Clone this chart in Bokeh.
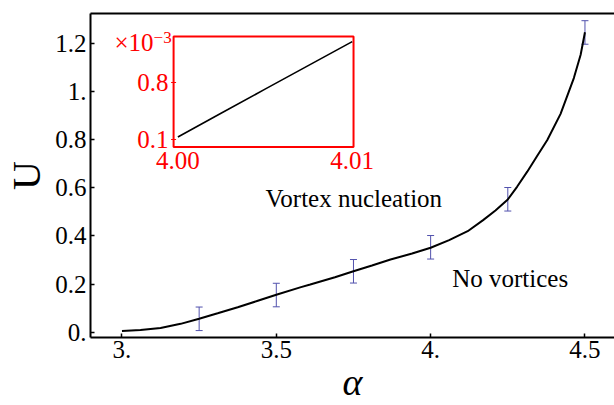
from bokeh.plotting import figure
from bokeh.models import (Range1d, FixedTicker, LinearAxis, Whisker, TeeHead,
                          ColumnDataSource)
from bokeh.core.properties import value
from bokeh.embed import file_html
from bokeh.resources import INLINE

# ---- data ----
curve_x = [3.0, 3.06, 3.125, 3.19, 3.25, 3.31, 3.375, 3.44, 3.5, 3.58, 3.61, 3.69,
           3.75, 3.81, 3.87, 3.94, 4.0, 4.06, 4.12, 4.17, 4.21, 4.25, 4.28, 4.313,
           4.345, 4.378, 4.421, 4.464, 4.486, 4.5]
curve_y = [0.004, 0.008, 0.017, 0.034, 0.055, 0.078, 0.103, 0.13, 0.155, 0.187, 0.198, 0.228,
           0.253, 0.277, 0.302, 0.327, 0.351, 0.383, 0.42, 0.466, 0.506, 0.552, 0.605, 0.668,
           0.733, 0.80, 0.909, 1.058, 1.155, 1.249]

err_x = [3.25, 3.5, 3.75, 4.0, 4.25, 4.5]
err_y = [0.055, 0.154, 0.253, 0.353, 0.553, 1.248]
err_d = [0.049, 0.049, 0.049, 0.049, 0.049, 0.049]

inset_x = [4.0, 4.0025, 4.005, 4.0075, 4.01]
inset_y = [0.13, 0.425, 0.718, 1.01, 1.302]

x_ticks = [3.0, 3.5, 4.0, 4.5]
x_labels = ["3.", "3.5", "4.", "4.5"]
y_ticks = [0.0, 0.2, 0.4, 0.6, 0.8, 1.0, 1.2]
y_labels = ["0.", "0.2", "0.4", "0.6", "0.8", "1.", "1.2"]

inset_x_ticks = [4.00, 4.01]
inset_x_labels = ["4.00", "4.01"]
inset_y_ticks = [0.8, 0.1]
inset_y_labels = ["0.8", "0.1"]

FONT = "Liberation Serif"
RED = "#ff0000"
ERRC = "#5252ad"

p = figure(width=614, height=405,
           x_range=Range1d(2.898, 4.5957), y_range=Range1d(-0.0229, 1.327),
           output_backend="svg", toolbar_location=None,
           min_border_left=90, min_border_right=0, min_border_top=13, min_border_bottom=68)
p.outline_line_color = None
p.grid.visible = False
p.background_fill_color = "white"
p.border_fill_color = "white"

for ax, ticks, labels in ((p.xaxis[0], x_ticks, x_labels), (p.yaxis[0], y_ticks, y_labels)):
    ax.ticker = FixedTicker(ticks=ticks)
    ax.major_label_overrides = dict(zip(ticks, labels))
    ax.major_label_text_font = FONT
    ax.major_label_text_font_size = "25px"
    ax.major_label_text_color = "black"
    ax.axis_line_width = 2
    ax.axis_line_color = "black"
    ax.major_tick_in = 4
    ax.major_tick_out = 0
    ax.major_tick_line_width = 1.5
    ax.minor_tick_line_color = None
    ax.axis_label_text_font = FONT
    ax.axis_label_text_color = "black"
p.xaxis[0].major_label_standoff = 3
p.yaxis[0].major_label_standoff = 4

p.yaxis[0].axis_label = "U"
p.yaxis[0].axis_label_text_font_size = "40px"
p.yaxis[0].axis_label_text_font_style = "normal"
p.yaxis[0].axis_label_standoff = 3

p.xaxis[0].axis_label = "α"
p.xaxis[0].axis_label_text_font_size = "38px"
p.xaxis[0].axis_label_text_font_style = "italic"
p.xaxis[0].axis_label_standoff = 0

top = LinearAxis(ticker=FixedTicker(ticks=[]), major_label_text_font_size="0px",
                 major_tick_line_color=None, minor_tick_line_color=None,
                 axis_line_width=2, axis_line_color="black")
p.add_layout(top, "above")

# main curve
p.line(curve_x, curve_y, line_color="black", line_width=2)

# error bars
src = ColumnDataSource(data=dict(
    x=err_x,
    upper=[y + d for y, d in zip(err_y, err_d)],
    lower=[y - d for y, d in zip(err_y, err_d)],
))
p.add_layout(Whisker(source=src, base="x", upper="upper", lower="lower",
                     line_color=ERRC, line_width=1,
                     upper_head=TeeHead(size=7, line_color=ERRC, line_width=1),
                     lower_head=TeeHead(size=7, line_color=ERRC, line_width=1)))

# region annotations
p.text(x=[3.465], y=[0.556], text=["Vortex nucleation"], text_font=value(FONT),
       text_font_size="25px", text_color="black", text_align="left", text_baseline="alphabetic")
p.text(x=[4.070], y=[0.223], text=["No vortices"], text_font=value(FONT),
       text_font_size="25px", text_color="black", text_align="left", text_baseline="alphabetic")

# ---- inset ----
ix0, ix1 = 3.999753, 4.010075
iy0, iy1 = 0.0079, 1.365
sub = p.subplot(x_source=Range1d(ix0, ix1), y_source=Range1d(iy0, iy1),
                x_target=Range1d(3.1672, 3.7502), y_target=Range1d(0.7708, 1.2313))
sub.quad(left=[ix0], right=[ix1], bottom=[iy0], top=[iy1],
         fill_color="white", line_color=RED, line_width=2)
sub.line(inset_x, inset_y, line_color="black", line_width=1.6)
sub.scatter(x=[ix0] * len(inset_y_ticks), y=inset_y_ticks, marker="dash", size=5,
            line_color=RED, line_width=1)
sub.text(x=[ix0] * len(inset_y_ticks), y=inset_y_ticks, text=inset_y_labels,
         text_font=value(FONT), text_font_size="25px", text_color=RED,
         text_align="right", text_baseline="middle", x_offset=-5)
sub.text(x=inset_x_ticks, y=[iy0] * len(inset_x_ticks), text=inset_x_labels,
         text_font=value(FONT), text_font_size="25px", text_color=RED,
         text_align="center", text_baseline="middle", y_offset=14)
sub.text(x=[ix0], y=[iy1], text=["×10"], text_font=value(FONT), text_font_size="25px",
         text_color=RED, text_align="right", text_baseline="middle", x_offset=-20, y_offset=6)
sub.text(x=[ix0], y=[iy1], text=["−3"], text_font=value(FONT), text_font_size="17px",
         text_color=RED, text_align="left", text_baseline="middle", x_offset=-20, y_offset=1)

open("out.html", "w").write(file_html(p, INLINE))
